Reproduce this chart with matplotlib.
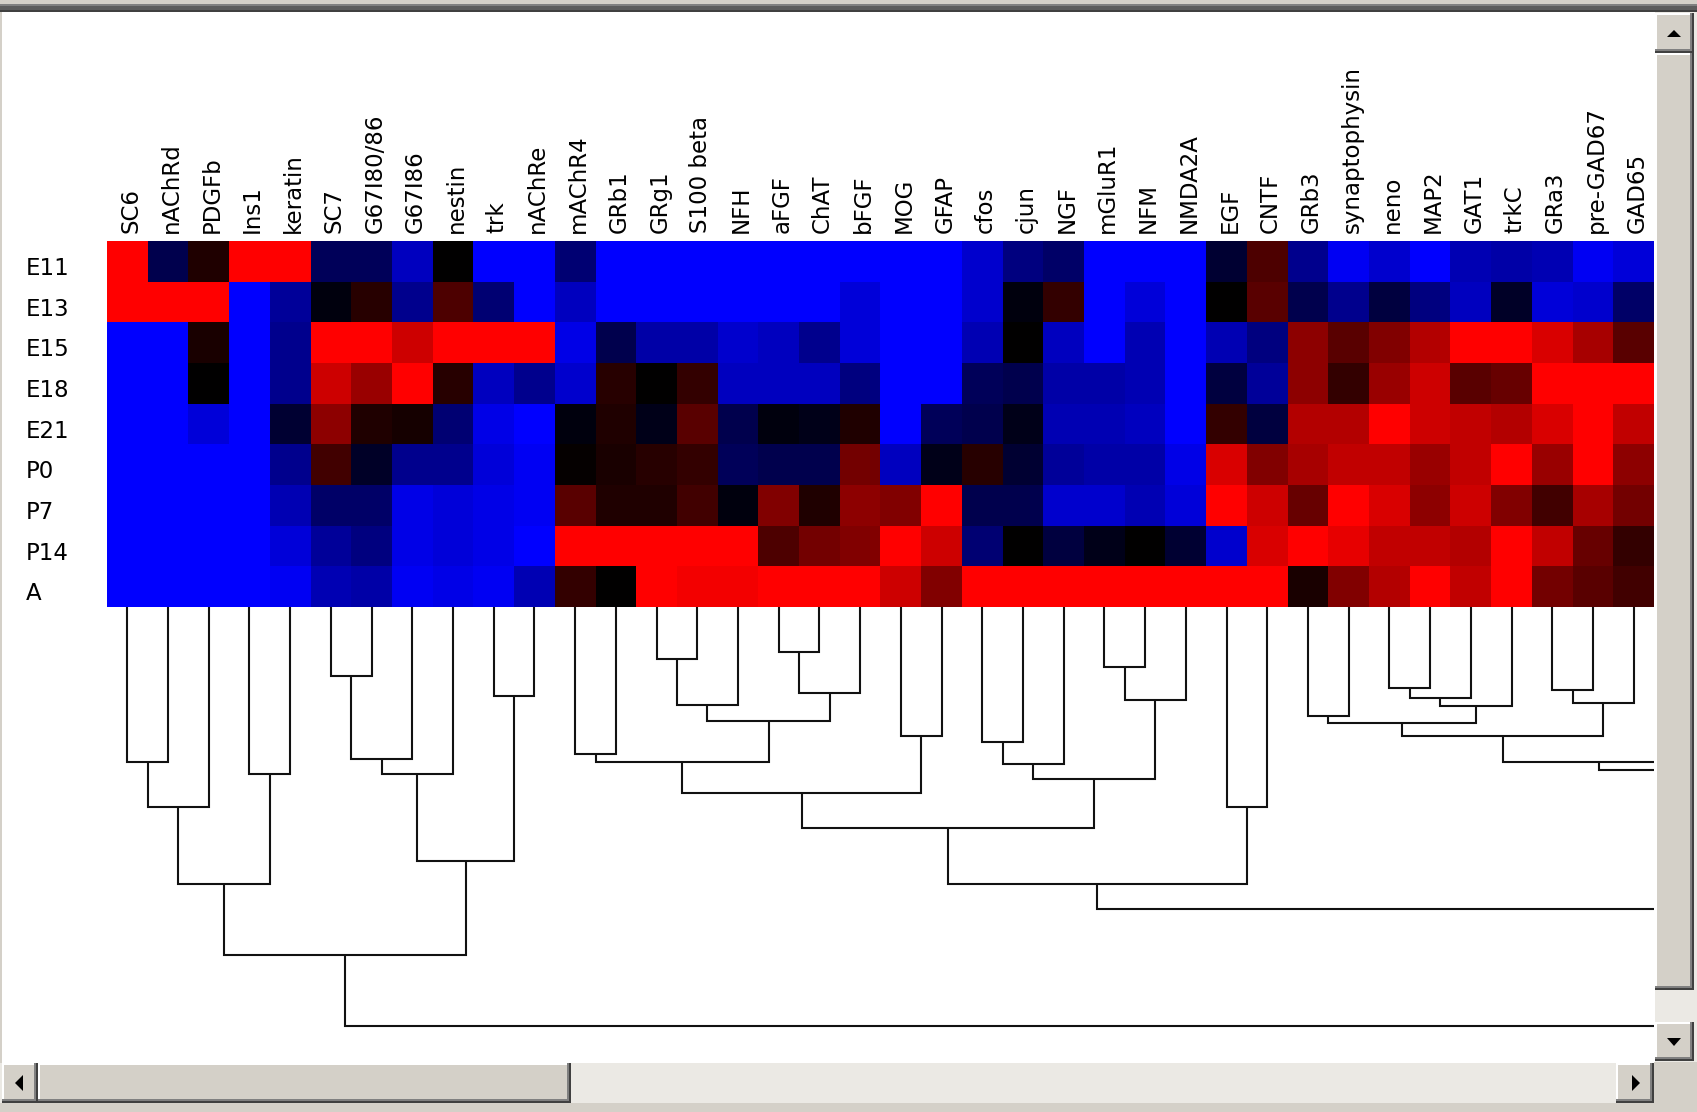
import numpy as np
import matplotlib
matplotlib.use("Agg")
import matplotlib.pyplot as plt
from matplotlib.colors import LinearSegmentedColormap
from matplotlib.patches import Rectangle, Polygon
from matplotlib.transforms import blended_transform_factory

# ---------------- data ----------------
stages = ["E11", "E13", "E15", "E18", "E21", "P0", "P7", "P14", "A"]
genes = ["SC6", "nAChRd", "PDGFb", "Ins1", "keratin", "SC7", "G67I80/86", "G67I86",
         "nestin", "trk", "nAChRe", "mAChR4", "GRb1", "GRg1", "S100 beta", "NFH",
         "aFGF", "ChAT", "bFGF", "MOG", "GFAP", "cfos", "cjun", "NGF", "mGluR1", "NFM",
         "NMDA2A", "EGF", "CNTF", "GRb3", "synaptophysin", "neno", "MAP2", "GAT1",
         "trkC", "GRa3", "pre-GAD67", "GAD65"]

e11 = [1, -0.3, 0.12, 1, 1, -0.35, -0.35, -0.75, 0, -1, -1, -0.45, -1, -1, -1, -1, -1, -1, -1,
       -1, -1, -0.8, -0.5, -0.4, -1, -1, -1, -0.2, 0.3, -0.55, -0.95, -0.8, -1, -0.7, -0.65, -0.7, -0.95, -0.85]
e13 = [1, 1, 1, -1, -0.6, -0.05, 0.15, -0.55, 0.3, -0.45, -1, -0.75, -1, -1, -1, -1, -1, -1, -0.85,
       -1, -1, -0.8, -0.05, 0.2, -1, -0.85, -1, 0, 0.35, -0.3, -0.55, -0.25, -0.5, -0.75, -0.15, -0.85, -0.8, -0.4]
e15 = [-1, -1, 0.1, -1, -0.55, 1, 1, 0.8, 1, 1, 1, -0.9, -0.3, -0.65, -0.65, -0.8, -0.75, -0.55, -0.85,
       -1, -1, -0.7, 0, -0.75, -1, -0.7, -1, -0.7, -0.5, 0.55, 0.35, 0.5, 0.7, 1, 1, 0.85, 0.65, 0.35]
e18 = [-1, -1, 0, -1, -0.55, 0.8, 0.6, 1, 0.15, -0.75, -0.55, -0.8, 0.15, 0, 0.2, -0.75, -0.75, -0.75, -0.5,
       -1, -1, -0.35, -0.3, -0.65, -0.65, -0.7, -1, -0.25, -0.6, 0.55, 0.2, 0.6, 0.8, 0.35, 0.4, 1, 1, 1]
e21 = [-1, -1, -0.85, -1, -0.2, 0.55, 0.12, 0.08, -0.45, -0.9, -1, -0.05, 0.12, -0.1, 0.35, -0.3, -0.05, -0.1, 0.12,
       -1, -0.35, -0.3, -0.1, -0.7, -0.7, -0.75, -1, 0.2, -0.25, 0.7, 0.7, 1, 0.8, 0.75, 0.7, 0.85, 1, 0.75]
p0 = [-1, -1, -1, -1, -0.55, 0.25, -0.15, -0.55, -0.55, -0.85, -0.95, 0.02, 0.1, 0.15, 0.2, -0.35, -0.3, -0.3, 0.45,
      -0.75, -0.1, 0.15, -0.2, -0.6, -0.65, -0.65, -0.9, 0.85, 0.5, 0.65, 0.75, 0.75, 0.6, 0.75, 1, 0.6, 1, 0.55]
p7 = [-1, -1, -1, -1, -0.7, -0.4, -0.4, -0.9, -0.85, -0.9, -0.95, 0.35, 0.12, 0.12, 0.25, -0.05, 0.5, 0.12, 0.55,
      0.5, 1, -0.3, -0.3, -0.8, -0.8, -0.7, -0.85, 1, 0.8, 0.4, 1, 0.85, 0.55, 0.8, 0.5, 0.25, 0.65, 0.45]
p14 = [-1, -1, -1, -1, -0.85, -0.6, -0.5, -0.9, -0.85, -0.9, -1, 1, 1, 1, 1, 1, 0.3, 0.45, 0.5,
       1, 0.8, -0.45, 0, -0.25, -0.1, 0, -0.2, -0.8, 0.85, 1, 0.9, 0.75, 0.75, 0.7, 1, 0.75, 0.4, 0.2]
adult = [-1, -1, -1, -1, -0.95, -0.7, -0.65, -0.95, -0.9, -0.95, -0.7, 0.2, 0, 1, 0.95, 0.95, 1, 1, 1,
         0.8, 0.5, 1, 1, 1, 1, 1, 1, 1, 1, 0.1, 0.5, 0.7, 1, 0.75, 1, 0.45, 0.35, 0.25]

# gene-tree merges: (left node, right node, height); leaves 0..37, new nodes numbered from 38.
# 'h0' / 'h1' are subtrees scrolled off to the right: (centre in column units, height)
hidden_subtrees = {"h0": (39.0, 0.90), "h1": (68.0, 1.40)}
merges = [
    (0, 1, 1.55), (38, 2, 2.00), (3, 4, 1.67), (39, 40, 2.77),
    (5, 6, 0.69), (42, 7, 1.52), (43, 8, 1.67), (9, 10, 0.89), (44, 45, 2.54), (41, 46, 3.48),
    (11, 12, 1.47), (13, 14, 0.52), (49, 15, 0.98), (16, 17, 0.45), (51, 18, 0.86), (50, 52, 1.14),
    (48, 53, 1.55), (19, 20, 1.29), (54, 55, 1.86), (21, 22, 1.35), (57, 23, 1.57), (24, 25, 0.60),
    (59, 26, 0.93), (58, 60, 1.72), (56, 61, 2.21), (27, 28, 2.00), (62, 63, 2.77),
    (29, 30, 1.09), (31, 32, 0.81), (66, 33, 0.91), (67, 34, 0.99), (65, 68, 1.16),
    (35, 36, 0.83), (70, 37, 0.96), (69, 71, 1.29), (72, "h0", 1.55), (73, "h1", 1.63),
    (64, 74, 3.02), (47, 75, 4.19),
]

# ---------------- figure ----------------
W, H = 1697, 1112
fig = plt.figure(figsize=(W / 100, H / 100), dpi=100, facecolor="white")


def fax(x0, y0, x1, y1, **kw):
    return fig.add_axes([x0 / W, 1 - y1 / H, (x1 - x0) / W, (y1 - y0) / H], **kw)


FONT = dict(family="DejaVu Sans", fontsize=16.5, color="black")

# heatmap
cmap = LinearSegmentedColormap.from_list("bkr", ["#0000ff", "#000000", "#ff0000"])
data = np.array([e11, e13, e15, e18, e21, p0, p7, p14, adult])
ax = fax(107, 241, 1654, 607)
ax.imshow(data, cmap=cmap, vmin=-1, vmax=1, aspect="auto", interpolation="nearest",
          extent=(0, len(genes), len(stages), 0))
ax.set_xlim(0, len(genes))
ax.set_ylim(len(stages), 0)
ax.axis("off")

for i, g in enumerate(genes):
    ax.text(i + 0.58, -0.2, g, rotation=90, ha="center", va="bottom", **FONT)

tr = blended_transform_factory(fig.transFigure, ax.transData)
for j, s in enumerate(stages):
    ax.text(26 / W, j + 0.84, s, transform=tr, ha="left", va="baseline", **FONT)

# dendrogram
dax = fax(107, 607, 1654, 1062)
dax.set_xlim(0, len(genes))
dax.set_ylim(4.55, 0)
dax.axis("off")
n_leaves = len(genes)
pos = {i: (i + 0.5, 0.0) for i in range(n_leaves)}
pos.update(hidden_subtrees)
for k, (a, b, h) in enumerate(merges):
    xa, ha_ = pos[a]
    xb, hb = pos[b]
    dax.plot([xa, xa, xb, xb], [ha_, h, h, hb], color="#111111", lw=1.5,
             solid_joinstyle="miter", solid_capstyle="butt")
    pos[n_leaves + k] = ((xa + xb) / 2, h)

# ---------------- window frame / scrollbars ----------------
ov = fig.add_axes([0, 0, 1, 1], zorder=10)
ov.set_xlim(0, W)
ov.set_ylim(H, 0)
ov.axis("off")
ov.patch.set_alpha(0)

FACE = "#d4d0c8"
TROUGH = "#ebe9e4"


def rect(x0, y0, x1, y1, c):
    ov.add_patch(Rectangle((x0, y0), x1 - x0, y1 - y0, facecolor=c, edgecolor="none"))


def button(x0, y0, x1, y1):
    rect(x0, y0, x1, y1, FACE)
    rect(x0, y0, x1, y0 + 2, "#ffffff")
    rect(x0, y0, x0 + 2, y1, "#ffffff")
    rect(x0, y1 - 4, x1, y1 - 2, "#808080")
    rect(x1 - 4, y0, x1 - 2, y1, "#808080")
    rect(x0, y1 - 2, x1, y1, "#404040")
    rect(x1 - 2, y0, x1, y1, "#404040")


def tri(pts):
    ov.add_patch(Polygon(pts, closed=True, facecolor="black", edgecolor="none"))


# top border
rect(0, 0, W, 4, FACE)
rect(0, 4, W, 12, "#5c5c5c")
rect(0, 4, W, 6, "#808080")
rect(0, 10, W, 12, "#404040")
# left border
rect(0, 12, 2, 1063, FACE)

# vertical scrollbar
rect(1655, 12, W, 1063, TROUGH)
button(1655, 13, 1694, 53)
tri([(1667, 37), (1681, 37), (1674, 30)])
button(1655, 53, 1694, 990)
button(1655, 1022, 1694, 1061)
tri([(1667, 1038), (1681, 1038), (1674, 1046)])

# horizontal scrollbar
rect(0, 1063, 1655, 1103, TROUGH)
button(2, 1063, 38, 1103)
tri([(23, 1075), (23, 1091), (15, 1083)])
button(38, 1063, 571, 1103)
button(1616, 1063, 1654, 1103)
tri([(1632, 1075), (1632, 1091), (1640, 1083)])

# corner + bottom strip
rect(1654, 1062, W, H, FACE)
rect(0, 1103, W, H, FACE)

fig.savefig("out.png", dpi=100, facecolor="white")
